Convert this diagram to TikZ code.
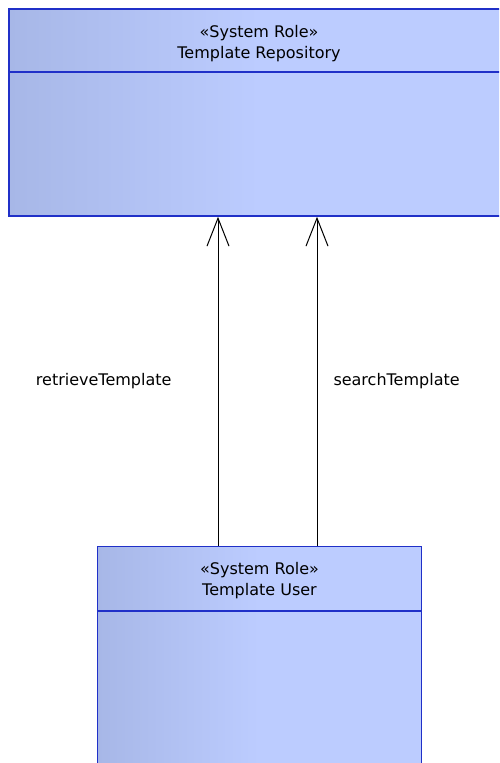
\documentclass[tikz,border=0pt]{standalone}
\usepackage{fontspec}
\setmainfont{DejaVu Sans}
\usetikzlibrary{positioning, arrows.meta}
\definecolor{roleblue}{RGB}{32,48,200}
\definecolor{roleleft}{RGB}{167,183,231}
\definecolor{roleright}{RGB}{188,204,255}
\tikzset{
  role/.style={draw=roleblue, line width=1.5pt, left color=roleleft, right color=roleright, middle color=roleright, inner sep=0},
  roletext/.style={align=center, inner sep=0, font=\fontsize{16}{21}\selectfont},
  usage/.style={-{Straight Barb[length=28pt,width=22pt]}, line width=1pt},
}

\begin{document}
\begin{tikzpicture}[x=1pt, y=-1pt]
  \clip (0,0) rectangle (499,763);
  % the two system roles
  \node[role, minimum width=501pt, minimum height=207pt] (repo) at (259.5,112.5) {};
  \node[role, minimum width=324pt, minimum height=260pt] (user) at (259.5,676.5) {};
  \draw[roleblue, line width=1.5pt] (repo.west |- 0,72) -- (repo.east |- 0,72);
  \draw[roleblue, line width=1.5pt] (user.west |- 0,611) -- (user.east |- 0,611);
  \node[roletext] (repotitle) at (259,43.3) {«System Role»\\Template Repository};
  \node[roletext] (usertitle) at (259.5,581) {«System Role»\\Template User};
  % usages
  \draw[usage] ([xshift=-41.5pt]user.north) -- node[roletext, left=46pt] (retrieve) {retrieveTemplate} ([xshift=-41.5pt]repo.south);
  \draw[usage] ([xshift=57.5pt]user.north) -- node[roletext, right=16pt] (search) {searchTemplate} ([xshift=57.5pt]repo.south);
\end{tikzpicture}
\end{document}
